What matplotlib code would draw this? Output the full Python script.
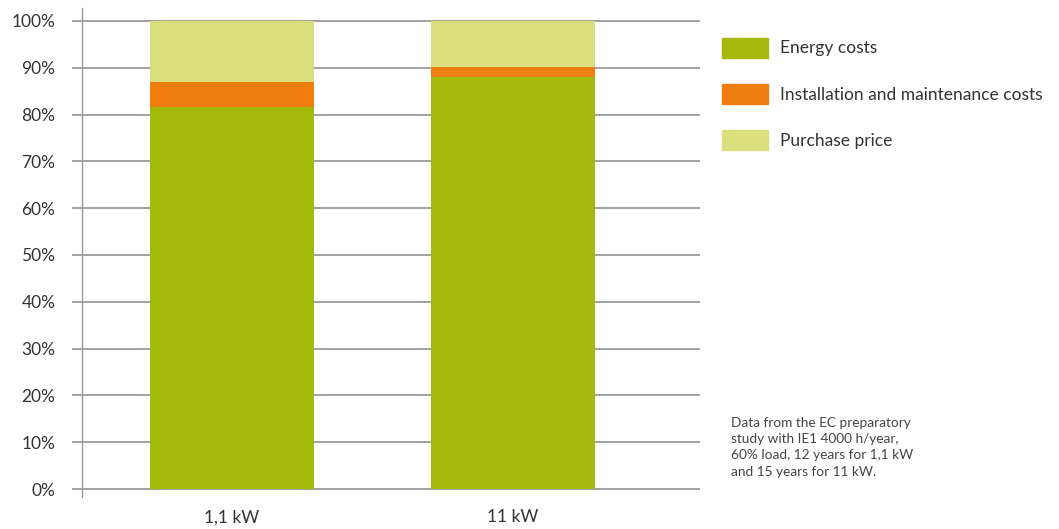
import matplotlib
matplotlib.use("Agg")
import matplotlib.pyplot as plt
from matplotlib.patches import Patch

categories = ["1,1 kW", "11 kW"]
energy_costs = [81.6, 88.0]
installation_costs = [5.3, 2.1]
purchase_price = [13.1, 9.9]
series_names = ["Energy costs", "Installation and maintenance costs", "Purchase price"]
colors = ["#A5B80C", "#EE7F10", "#DADF7E"]
yticks = [0, 10, 20, 30, 40, 50, 60, 70, 80, 90, 100]
note = ("Data from the EC preparatory\nstudy with IE1 4000 h/year,\n"
        "60% load, 12 years for 1,1 kW\nand 15 years for 11 kW.")

plt.rcParams['font.family'] = ['Lato', 'DejaVu Sans']

W, H = 1059, 529
fig = plt.figure(figsize=(W / 100, H / 100), dpi=100)
ax = fig.add_axes([82 / W, 1 - 497 / H, (700 - 82) / W, (497 - 8) / H])

x = list(range(len(categories)))
bw = 164 / 281
bottom2 = [a + b for a, b in zip(energy_costs, installation_costs)]
ax.bar(x, energy_costs, width=bw, color=colors[0], zorder=3)
ax.bar(x, installation_costs, width=bw, bottom=energy_costs, color=colors[1], zorder=3)
ax.bar(x, purchase_price, width=bw, bottom=bottom2, color=colors[2], zorder=3)

ax.set_xlim(-150 / 281, 468 / 281)
ax.set_ylim(-8 / 4.68, 100 + 13 / 4.68)
ax.set_yticks(yticks)
ax.set_yticklabels([f"{t}%" for t in yticks])
ax.set_xticks(x)
ax.set_xticklabels(categories)
ax.grid(axis='y', color='#9a9a9a', linewidth=1.3, zorder=0)
for s in ['top', 'right', 'bottom']:
    ax.spines[s].set_visible(False)
ax.spines['left'].set_color('#9a9a9a')
ax.spines['left'].set_linewidth(1.0)
ax.tick_params(axis='y', length=7.2, width=1.3, color='#9a9a9a', pad=12,
               labelsize=12.5, labelcolor='#333333')
ax.tick_params(axis='x', length=0, pad=9, labelsize=12.5, labelcolor='#333333')

handles = [Patch(color=c) for c in colors]
fig.legend(handles, series_names, loc='upper left', bbox_to_anchor=(706 / W, 1 - 22 / H),
           frameon=False, fontsize=12.5, handlelength=2.65, handleheight=1.4,
           labelspacing=1.5, handletextpad=0.7, labelcolor='#333333')

fig.text(731 / W, 1 - 417 / H, note, ha='left', va='top', fontsize=9.8,
         color='#444444', linespacing=1.42)

fig.savefig("out.png", dpi=100)
